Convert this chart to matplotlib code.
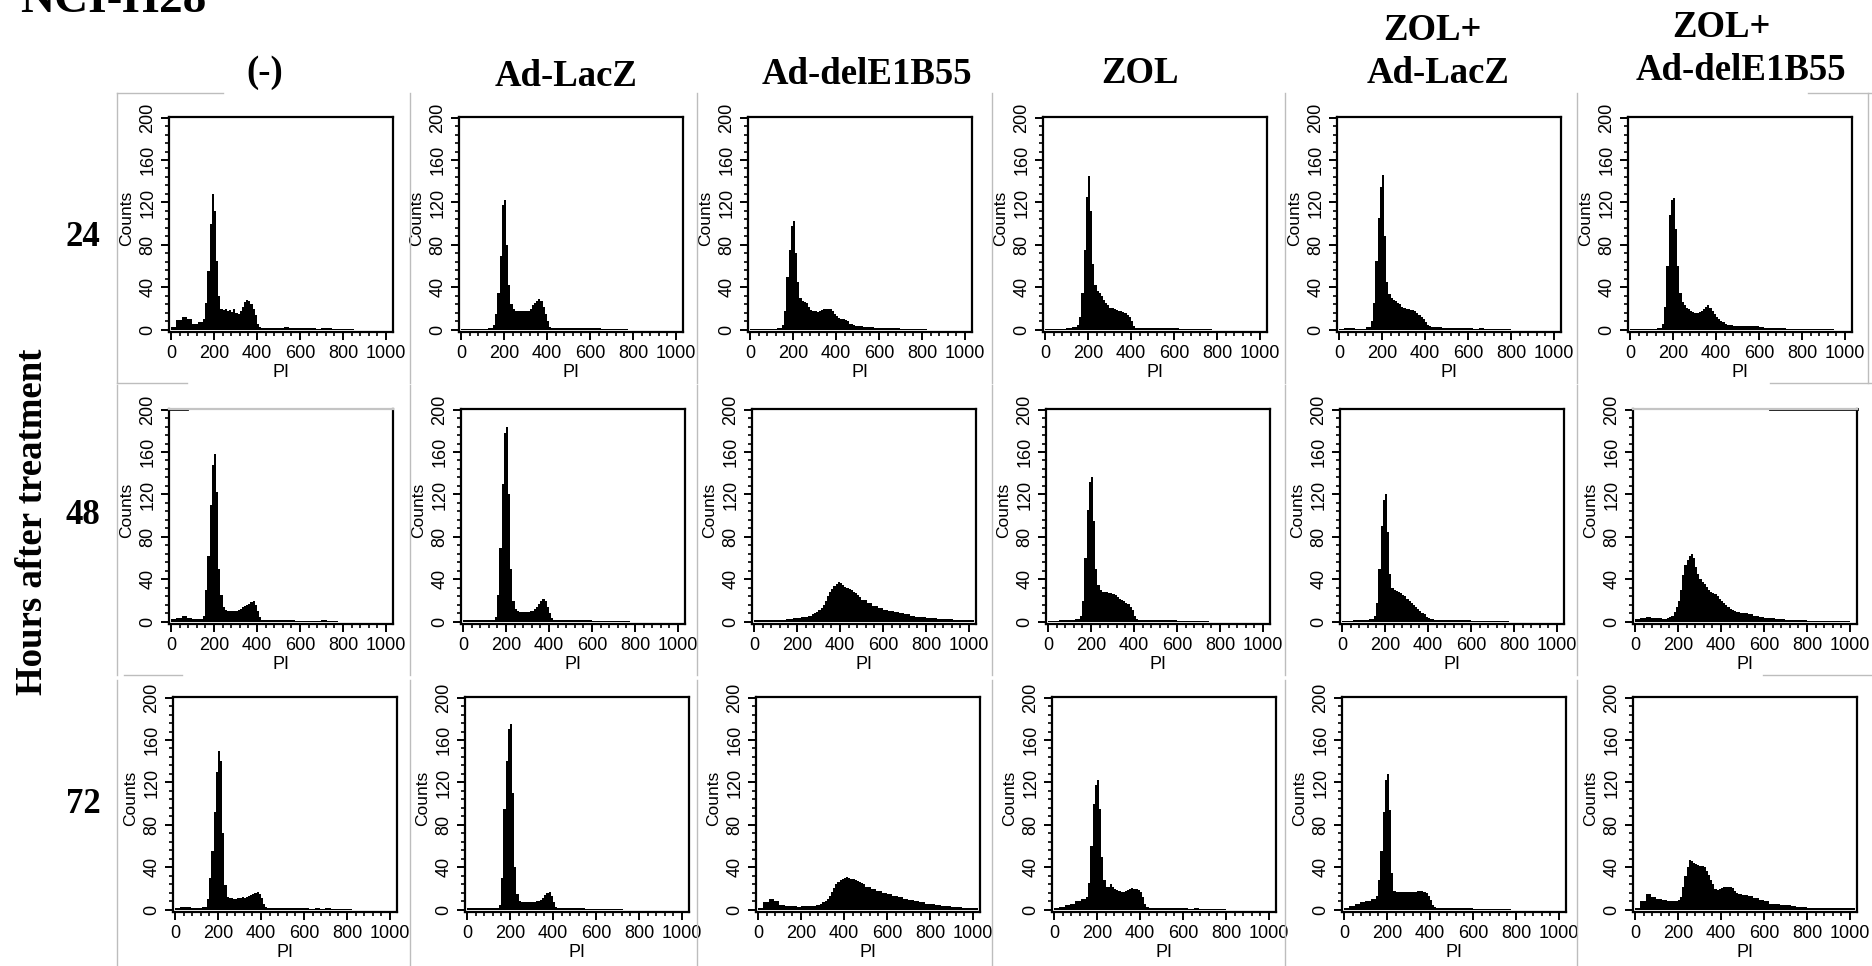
import numpy as np
import matplotlib
matplotlib.use("Agg")
import matplotlib.pyplot as plt
from matplotlib import font_manager
from matplotlib.lines import Line2D
from matplotlib.ticker import MultipleLocator

W, H = 1872, 966

# ---- data -------------------------------------------------------------
title = "NCI-H28"
row_labels = ["24", "48", "72"]
side_label = "Hours after treatment"
# column headers, one entry per printed line: (text, x px, baseline px)
header_lines = [("(-)", 265, 82), ("Ad-LacZ", 566, 86), ("Ad-delE1B55", 867, 84),
                ("ZOL", 1140, 83), ("ZOL+", 1432, 40), ("Ad-LacZ", 1438, 83),
                ("ZOL+", 1721, 37), ("Ad-delE1B55", 1741, 80)]

# PI bin edges shared by all histograms: 25-wide below 150, 10-wide 150-500, 25-wide above
edges = np.concatenate([np.arange(0, 150, 25), np.arange(150, 500, 10),
                        np.arange(500, 1050, 25)])

x_ticks = [0, 200, 400, 600, 800, 1000]
y_ticks = [0, 40, 80, 120, 160, 200]

# counts per bin (rows: 24 h, 48 h, 72 h)
h24_neg = [3, 9, 12, 10, 6, 7,
           10, 25, 55, 100, 128, 112, 65, 32, 20, 19,
           20, 18, 19, 17, 20, 16, 15, 18, 22, 26,
           28, 27, 24, 20, 14, 6, 3, 2, 2, 2,
           2, 2, 2, 2, 2,
           2, 3, 2, 2, 2, 2, 2,
           1, 2, 2, 1, 1, 1, 1,
           0, 0, 0, 0, 0, 0, 0]
h24_lacz = [1, 1, 1, 1, 1, 2,
            5, 15, 35, 70, 118, 122, 80, 42, 24, 20,
            18, 18, 18, 18, 18, 18, 18, 20, 23, 25,
            27, 29, 27, 22, 15, 8, 3, 2, 2, 2,
            2, 2, 2, 2, 2,
            2, 2, 2, 2, 2, 2, 1,
            1, 1, 1, 1, 0, 0, 0,
            0, 0, 0, 0, 0, 0, 0]
h24_del = [1, 1, 1, 1, 1, 2,
           5, 18, 50, 75, 98, 103, 72, 45, 30, 27,
           26, 25, 22, 19, 18, 18, 17, 18, 19, 20,
           20, 20, 20, 18, 15, 13, 11, 10, 10, 9,
           8, 6, 6, 5, 4,
           4, 3, 3, 2, 2, 2, 2,
           2, 1, 1, 1, 1, 1, 0,
           0, 0, 0, 0, 0, 0, 0]
h24_zol = [1, 1, 1, 1, 2, 3,
           5, 12, 35, 75, 125, 145, 112, 62, 42, 37,
           35, 32, 28, 25, 23, 21, 21, 20, 19, 18,
           18, 17, 16, 14, 12, 8, 4, 2, 2, 2,
           2, 2, 2, 2, 2,
           2, 2, 2, 2, 2, 1, 1,
           1, 1, 1, 1, 0, 0, 0,
           0, 0, 0, 0, 0, 0, 0]
h24_zol_lacz = [1, 2, 2, 1, 1, 3,
                8, 25, 65, 105, 135, 146, 88, 45, 34, 30,
                28, 27, 25, 24, 22, 21, 20, 20, 19, 19,
                18, 16, 14, 12, 10, 7, 5, 4, 3, 3,
                3, 3, 3, 2, 2,
                2, 2, 2, 2, 2, 1, 2,
                1, 1, 1, 1, 1, 0, 0,
                0, 0, 0, 0, 0, 0, 0]
h24_zol_del = [1, 1, 1, 1, 1, 2,
               6, 22, 60, 108, 122, 124, 95, 60, 35, 26,
               23, 21, 20, 18, 17, 16, 16, 17, 18, 20,
               22, 23, 21, 18, 15, 12, 10, 8, 7, 6,
               5, 5, 5, 4, 4,
               4, 4, 4, 4, 3, 2, 2,
               2, 2, 1, 1, 1, 1, 1,
               1, 1, 1, 1, 0, 0, 0]

h48_neg = [3, 4, 6, 4, 3, 3,
           6, 30, 62, 110, 148, 158, 122, 50, 25, 14,
           11, 10, 10, 10, 10, 10, 11, 12, 14, 15,
           16, 17, 19, 20, 16, 10, 5, 2, 2, 2,
           2, 2, 2, 2, 2,
           2, 2, 2, 1, 1, 1, 1,
           1, 2, 1, 1, 0, 0, 0,
           0, 0, 0, 0, 0, 0, 0]
h48_lacz = [2, 2, 2, 2, 2, 2,
            5, 25, 70, 130, 178, 184, 120, 50, 20, 12,
            10, 9, 9, 9, 9, 9, 10, 10, 12, 14,
            17, 20, 22, 20, 14, 8, 4, 2, 2, 2,
            2, 2, 2, 2, 2,
            2, 2, 2, 2, 1, 1, 1,
            1, 1, 1, 1, 0, 0, 0,
            0, 0, 0, 0, 0, 0, 0]
h48_del = [2, 2, 2, 2, 2, 2,
           3, 3, 3, 4, 4, 4, 4, 5, 5, 5,
           6, 6, 7, 8, 9, 11, 13, 16, 20, 24,
           28, 31, 34, 36, 38, 37, 35, 33, 32, 31,
           30, 28, 27, 25, 23,
           21, 18, 15, 13, 11, 10, 9,
           8, 7, 6, 5, 5, 4, 4,
           3, 3, 3, 2, 2, 2, 2]
h48_zol = [1, 1, 2, 2, 2, 3,
           6, 20, 60, 105, 132, 136, 95, 50, 35, 30,
           28, 28, 28, 27, 27, 26, 25, 23, 22, 21,
           20, 18, 17, 14, 11, 6, 3, 2, 2, 2,
           2, 2, 2, 2, 2,
           2, 2, 2, 2, 1, 1, 1,
           1, 1, 1, 0, 0, 0, 0,
           0, 0, 0, 0, 0, 0, 0]
h48_zol_lacz = [1, 1, 2, 2, 2, 3,
                6, 18, 50, 90, 115, 120, 85, 45, 32, 30,
                29, 28, 27, 25, 24, 22, 20, 18, 16, 14,
                12, 10, 8, 7, 5, 4, 3, 3, 2, 2,
                2, 2, 2, 2, 2,
                2, 2, 2, 2, 1, 1, 1,
                1, 1, 1, 1, 0, 0, 0,
                0, 0, 0, 0, 0, 0, 0]
h48_zol_del = [3, 4, 5, 4, 4, 3,
               4, 5, 6, 9, 14, 20, 30, 44, 54, 58,
               62, 64, 60, 52, 45, 40, 38, 36, 33, 30,
               28, 27, 26, 24, 22, 20, 18, 16, 14, 12,
               11, 10, 9, 9, 8,
               8, 7, 6, 5, 4, 4, 3,
               3, 2, 2, 2, 2, 1, 1,
               1, 1, 1, 1, 1, 1, 0]

h72_neg = [2, 3, 3, 2, 2, 3,
           10, 30, 55, 92, 130, 150, 140, 72, 23, 12,
           11, 11, 10, 10, 11, 11, 12, 11, 12, 13,
           14, 15, 16, 17, 15, 11, 6, 3, 2, 2,
           2, 2, 2, 2, 2,
           2, 2, 2, 2, 2, 1, 2,
           1, 2, 1, 1, 1, 1, 0,
           0, 0, 0, 0, 0, 0, 0]
h72_lacz = [2, 2, 2, 2, 2, 2,
            5, 30, 95, 140, 170, 175, 110, 40, 15, 8,
            7, 7, 7, 7, 7, 7, 7, 8, 8, 9,
            11, 14, 16, 17, 13, 7, 3, 2, 2, 2,
            2, 2, 2, 2, 2,
            2, 2, 1, 1, 1, 1, 1,
            1, 1, 0, 0, 0, 0, 0,
            0, 0, 0, 0, 0, 0, 0]
h72_del = [2, 7, 10, 8, 5, 4,
           4, 4, 4, 3, 3, 4, 4, 4, 4, 4,
           4, 4, 5, 5, 6, 7, 8, 10, 13, 17,
           21, 24, 26, 28, 29, 30, 31, 30, 29, 29,
           28, 27, 26, 25, 24,
           22, 20, 18, 16, 15, 13, 12,
           10, 9, 8, 7, 6, 6, 5,
           4, 4, 3, 3, 2, 2, 2]
h72_zol = [2, 3, 5, 6, 8, 10,
           12, 25, 60, 100, 118, 122, 95, 50, 28, 22,
           22, 24, 22, 20, 19, 18, 17, 17, 18, 19,
           20, 21, 20, 20, 19, 17, 12, 6, 3, 2,
           2, 2, 2, 2, 2,
           2, 2, 2, 2, 2, 1, 2,
           1, 1, 1, 1, 1, 0, 0,
           0, 0, 0, 0, 0, 0, 0]
h72_zol_lacz = [2, 4, 6, 7, 8, 10,
                13, 28, 55, 92, 122, 128, 94, 35, 18, 17,
                17, 17, 17, 17, 17, 17, 17, 17, 17, 18,
                18, 18, 17, 16, 13, 9, 5, 3, 2, 2,
                2, 2, 2, 2, 2,
                2, 2, 2, 2, 1, 1, 1,
                1, 1, 1, 1, 0, 0, 0,
                0, 0, 0, 0, 0, 0, 0]
h72_zol_del = [2, 8, 15, 12, 10, 9,
               8, 8, 8, 8, 8, 9, 12, 22, 32, 40,
               47, 46, 44, 43, 42, 41, 41, 40, 37, 33,
               28, 24, 20, 19, 20, 21, 22, 22, 22, 22,
               21, 18, 16, 15, 15,
               14, 13, 11, 9, 8, 6, 6,
               5, 5, 4, 3, 3, 2, 2,
               2, 2, 2, 2, 2, 2, 2]

counts = [[h24_neg, h24_lacz, h24_del, h24_zol, h24_zol_lacz, h24_zol_del],
          [h48_neg, h48_lacz, h48_del, h48_zol, h48_zol_lacz, h48_zol_del],
          [h72_neg, h72_lacz, h72_del, h72_zol, h72_zol_lacz, h72_zol_del]]

# ---- layout (pixels of the 1872x966 picture) ---------------------------
col_left = [[169, 459, 748, 1043, 1337, 1628],
            [169, 461, 752, 1046, 1340, 1633],
            [173, 465, 756, 1052, 1342, 1633]]
row_top = [117, 409, 697]
box_w, box_h = 224, 215
row_y = [235, 513, 802]

installed = {f.name for f in font_manager.fontManager.ttflist}
SANS = "Liberation Sans Narrow" if "Liberation Sans Narrow" in installed else "Liberation Sans"
SERIF = "Liberation Serif"
plt.rcParams["font.family"] = SANS


def fx(x):
    return x / W


def fy(y):
    return 1 - y / H


fig = plt.figure(figsize=(W / 100, H / 100), dpi=100)

for r in range(3):
    for c in range(6):
        left, top = col_left[r][c], row_top[r]
        ax = fig.add_axes([fx(left), fy(top + box_h), box_w / W, box_h / H])
        ax.stairs(counts[r][c], edges, fill=True, color="black", linewidth=0)
        ax.set_xlim(-9, 1033)
        ax.set_ylim(-2, 200.5)
        ax.set_xticks(x_ticks)
        ax.set_yticks(y_ticks)
        ax.xaxis.set_minor_locator(MultipleLocator(40))
        ax.yaxis.set_minor_locator(MultipleLocator(8))
        ax.tick_params(which="major", direction="out", length=6, width=1.4,
                       labelsize=13, pad=3, color="black")
        ax.tick_params(which="minor", direction="out", length=3, width=1.2)
        ax.tick_params(axis="y", labelrotation=90)
        for lab in ax.get_yticklabels():
            lab.set_va("center")
        ax.set_xlabel("PI", fontsize=13, labelpad=2)
        ax.set_ylabel("Counts", fontsize=12.5, labelpad=4, y=0.53)
        for s in ax.spines.values():
            s.set_linewidth(1.6)

        # cropped panel images: part of the top frame shows up grey
        if (r, c) == (1, 0):
            ax.spines["top"].set_color("#c4c4c4")
            ax.plot([0, 0.08], [1, 1], transform=ax.transAxes, color="black",
                    lw=2, clip_on=False)
        if (r, c) == (1, 5):
            ax.spines["top"].set_color("#c4c4c4")
            ax.plot([0.61, 1], [1, 1], transform=ax.transAxes, color="black",
                    lw=2, clip_on=False)

# grey outlines of the pasted panel images
frame_x = [117, 410, 697, 992, 1285, 1577]
frame_rows = [(93, 383), (385, 675), (680, 966)]
for y0, y1 in frame_rows:
    for x in frame_x:
        fig.add_artist(Line2D([fx(x), fx(x)], [fy(y0), fy(y1)], color="#bdbdbd", lw=1))
for x0, x1, y in [(117, 223, 93), (117, 187, 383), (124, 182, 675),
                  (1808, 1872, 93), (1770, 1872, 383), (1763, 1872, 675)]:
    fig.add_artist(Line2D([fx(x0), fx(x1)], [fy(y), fy(y)], color="#bdbdbd", lw=1))
fig.add_artist(Line2D([fx(1868), fx(1868)], [fy(93), fy(383)], color="#bdbdbd", lw=1))

# texts
fig.text(fx(20), fy(12), title, fontfamily=SERIF, fontweight="bold", fontsize=34,
         ha="left", va="baseline")
for txt, x, y in header_lines:
    fig.text(fx(x), fy(y), txt, fontfamily=SERIF, fontweight="bold", fontsize=26.5,
             ha="center", va="baseline")
for txt, y in zip(row_labels, row_y):
    fig.text(fx(83), fy(y + 11), txt, fontfamily=SERIF, fontweight="bold", fontsize=25,
             ha="center", va="baseline")
fig.text(fx(42), fy(522), side_label, fontfamily=SERIF, fontweight="bold", fontsize=26.5,
         rotation=90, rotation_mode="anchor", ha="center", va="baseline")

fig.savefig("out.png", dpi=100)
